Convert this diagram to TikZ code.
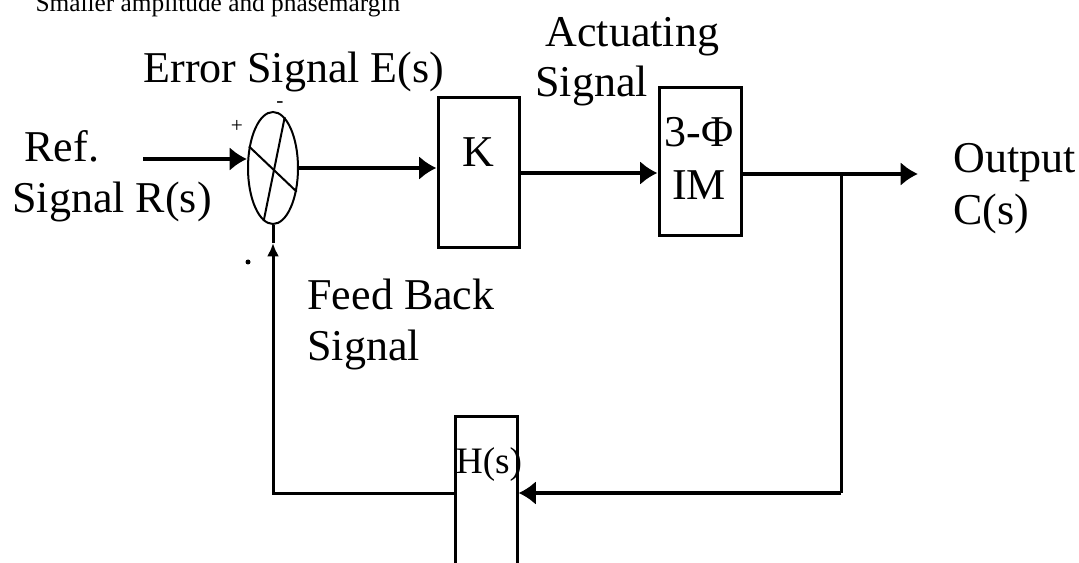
\documentclass[tikz,border=0pt]{standalone}
\usepackage{fontspec}
\setmainfont{Liberation Serif}
\newfontfamily\diagfont{Liberation Serif}
\usetikzlibrary{shapes.geometric,arrows.meta}

\tikzset{every picture/.style={line width=0.75pt}}
\tikzset{
	block/.style={draw, line width=2.25pt, inner sep=0pt},
	summer/.style={draw, ellipse, line width=1.5pt, inner sep=0pt, minimum width=37.5pt, minimum height=84pt},
	conn/.style={line width=3pt},
	arr/.style={conn, -{Latex[length=13pt,width=18pt]}},
	smallarr/.style={line width=2.25pt, -{Latex[length=10pt,width=9pt]}},
	lbl/.style={inner sep=0pt, anchor=base west, align=left, font=\diagfont\fontsize{33}{38}\selectfont},
	clbl/.style={inner sep=0pt, anchor=base, align=center, font=\diagfont\fontsize{33}{38}\selectfont}
}

\begin{document}
\begin{tikzpicture}[x=0.75pt,y=0.75pt,yscale=-1,xscale=1]
	\useasboundingbox (0,0) rectangle (1079,563);
	
	%Shape: Ellipse [id:sum]
	\node (sum) [summer] at (273,168) {};
	\draw [line width=1.5pt] (sum.138) -- (sum.-45) ;
	\draw [line width=1.5pt] (sum.77) -- (sum.-100) ;
	%Shape: Rectangle [id:gain]
	\node (gain) [block, minimum width=60.75pt, minimum height=112.5pt] at (478.5,173) {};
	%Shape: Rectangle [id:motor]
	\node (motor) [block, minimum width=61.5pt, minimum height=111pt] at (700,162) {};
	%Shape: Rectangle [id:fb]
	\node (fb) [block, anchor=north, minimum width=46.5pt, minimum height=150pt] at (486,415) {};
	
	\coordinate (ref) at (143,159);
	\coordinate (out) at (918,174);
	\coordinate (br) at (841,174);
	\coordinate (fbr) at (841,493);
	\coordinate (fbtip) at (273,243);
	
	%Straight Lines
	\draw [arr] (ref) -- (sum.west |- ref) ;
	\draw [arr] (sum.east) -- (gain.west |- sum.east) ;
	\draw [arr] (gain.east) -- (motor.west |- gain.east) ;
	\draw [arr] (motor.east |- out) -- (out) ;
	\draw [line width=2.25pt] (br) -- (fbr) ;
	\draw [arr] (fbr) -- (fb.east |- fbr) ;
	\draw [smallarr] (fb.west |- fbr) -| (fbtip) ;
	\draw [line width=2.25pt] (fbtip) -- (sum.south) ;
	
	% Text Node
	\node (note) [inner sep=0pt, anchor=base west, font=\diagfont\fontsize{19}{21}\selectfont] at (35,12) {Smaller amplitude and phasemargin};
	% Text Node
	\node (errtext) [lbl] at (143,83) {Error Signal E(s)};
	% Text Node
	\node (acttext) [lbl] at (545,47) {Actuating};
	\node (acttext2) [lbl] at (535,97) {Signal};
	% Text Node
	\node (reftext) [lbl] at (24,162) {Ref.};
	\node (reftext2) [lbl] at (12,213) {Signal R(s)};
	% Text Node
	\node (outtext) [lbl] at (953,173) {Output};
	\node (outtext2) [lbl] at (953,225) {C(s)};
	% Text Node
	\node (fbtext) [lbl] at (307,310) {Feed Back};
	\node (fbtext2) [lbl] at (307,360) {Signal};
	% Text Node
	\node (gaintext) [clbl] at (478.5,167) {K};
	\node (motortext) [clbl] at (699,147) {3-Φ};
	\node (motortext2) [clbl] at (699,200) {IM};
	\node (fbbox) [clbl, font=\diagfont\fontsize{28}{32}\selectfont] at (489,473) {H(s)};
	% Text Node
	\node (plus) [inner sep=0pt, font=\diagfont\fontsize{16}{16}\selectfont] at (237,126) {+};
	\node (minus) [inner sep=0pt, font=\diagfont\fontsize{16}{16}\selectfont] at (280,105) {-};
	\fill (248,262) circle (2.5) ;
	
\end{tikzpicture}
\end{document}
